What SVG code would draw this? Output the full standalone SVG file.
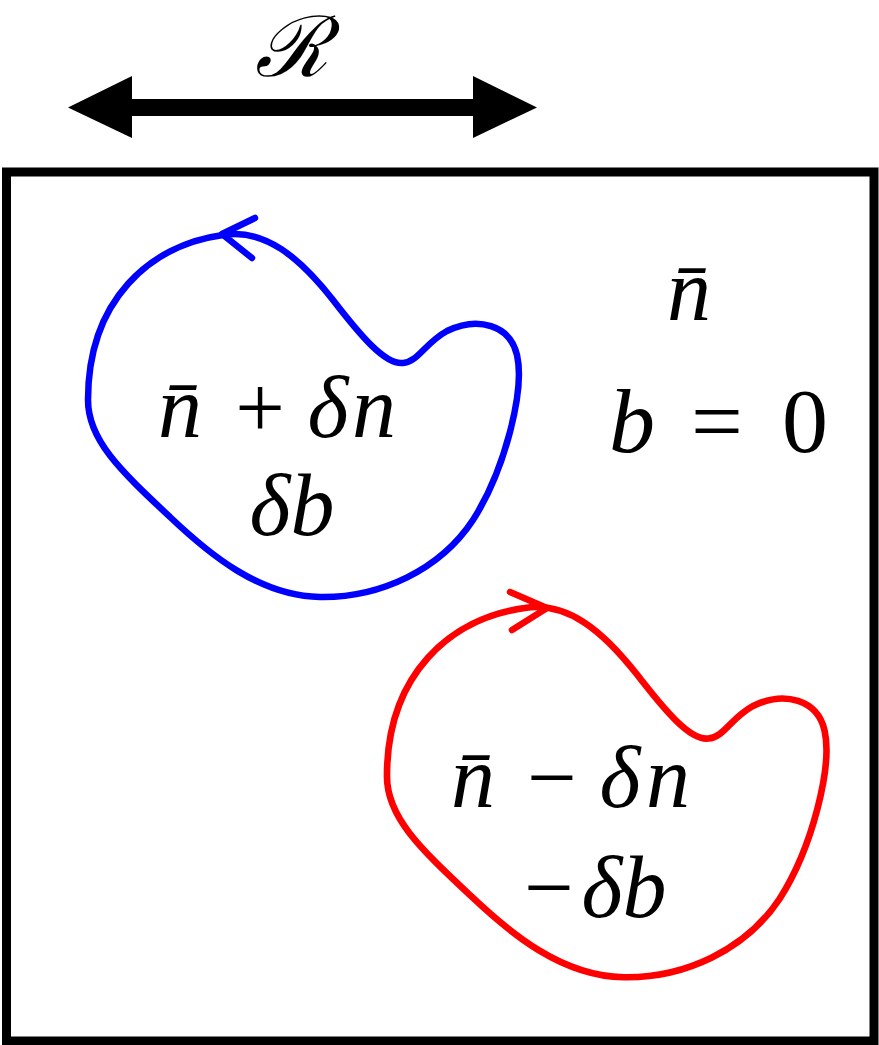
<svg xmlns="http://www.w3.org/2000/svg" width="879" height="1045" viewBox="0 0 879 1045">
<defs>
<path id="loopShape" d="M223,235 C265,228 300,258 333,300 C360,335 385,365 403,363 C418,362 425,343 447,331 C478,316 510,325 517,355 C525,390 505,470 473,520 C440,570 380,598 320,597 C260,596 210,555 170,517 C120,470 88,440 88,400 C88,300 150,245 223,235 Z"/>
</defs>
<rect width="879" height="1045" fill="#fff"/>
<g id="region-frame">
<rect x="6.5" y="172" width="867.5" height="869" fill="none" stroke="#000" stroke-width="9"/>
</g>
<g id="connectors">
<line x1="125" y1="107.5" x2="480" y2="107.5" stroke="#000" stroke-width="17"/>
<polygon points="68,107.5 132,76 132,138" fill="#000"/>
<polygon points="537,107.5 473,76 473,138" fill="#000"/>
<text x="291" y="76" text-anchor="middle" font-family="Liberation Serif" font-style="italic" font-size="84">ℛ</text>
</g>
<g id="blue-loop">
<use href="#loopShape" fill="none" stroke="#0000ff" stroke-width="6.5" stroke-linejoin="round"/>
<polyline points="255,218 222,234 252,258" fill="none" stroke="#0000ff" stroke-width="6.5" stroke-linecap="round" stroke-linejoin="round"/>
<text y="437" text-anchor="middle" font-family="Liberation Serif" font-size="88"><tspan x="180" font-style="italic">n̄</tspan><tspan x="260">+</tspan><tspan x="328" font-style="italic">δ</tspan><tspan x="374" font-style="italic">n</tspan></text>
<text x="292" y="535" text-anchor="middle" font-family="Liberation Serif" font-size="88" font-style="italic">δb</text>
</g>
<g id="red-loop">
<use href="#loopShape" fill="none" stroke="#ff0000" stroke-width="6.5" stroke-linejoin="round" transform="translate(297.2 368.3) scale(1.02)"/>
<polyline points="510,592 547,608 512,630" fill="none" stroke="#ff0000" stroke-width="6.5" stroke-linecap="round" stroke-linejoin="round"/>
<text y="807" text-anchor="middle" font-family="Liberation Serif" font-size="88"><tspan x="473" font-style="italic">n̄</tspan><tspan x="552">−</tspan><tspan x="620" font-style="italic">δ</tspan><tspan x="668" font-style="italic">n</tspan></text>
<text y="917" text-anchor="middle" font-family="Liberation Serif" font-size="88"><tspan x="549">−</tspan><tspan x="624" font-style="italic">δb</tspan></text>
</g>
<g id="background-label">
<text x="689" y="320" text-anchor="middle" font-family="Liberation Serif" font-size="88" font-style="italic">n̄</text>
<text y="452" text-anchor="middle" font-family="Liberation Serif" font-size="92"><tspan x="632" font-style="italic">b</tspan><tspan x="717">=</tspan><tspan x="805">0</tspan></text>
</g>
</svg>
